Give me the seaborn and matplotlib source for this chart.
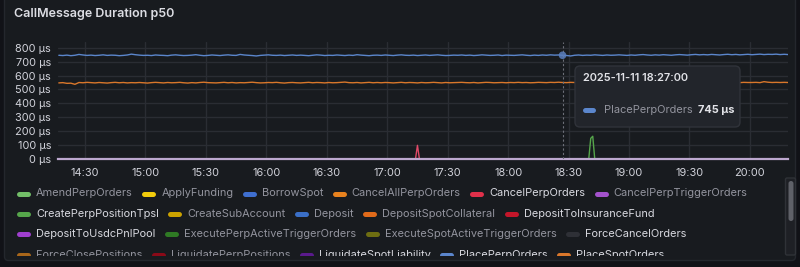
import numpy as np
import pandas as pd
import matplotlib
matplotlib.use("Agg")
import matplotlib.pyplot as plt
import seaborn as sns
from matplotlib.patches import FancyBboxPatch
from matplotlib.transforms import Bbox

# ---------------- data ----------------
DAY = "2025-11-11"
TITLE = "CallMessage Duration p50"

series_start = "14:17"
series_step = "2min"

place_perp_orders = [
    745, 743, 746, 742, 745, 751, 747, 744, 746, 743, 745, 748, 744, 746, 745, 742, 744, 747, 753, 749,
    746, 744, 745, 743, 747, 745, 744, 742, 746, 748, 745, 743, 744, 746, 749, 745, 742, 744, 747, 745,
    743, 746, 748, 745, 744, 751, 747, 745, 743, 740, 744, 746, 748, 745, 744, 746, 743, 745, 747, 744,
    746, 744, 742, 745, 748, 746, 743, 745, 744, 747, 745, 743, 746, 744, 749, 746, 744, 742, 745, 746,
    744, 747, 745, 743, 746, 748, 745, 744, 746, 743, 745, 747, 744, 746, 748, 745, 743, 744, 746, 745,
    747, 744, 746, 743, 745, 748, 746, 744, 745, 747, 743, 746, 745, 744, 746, 748, 745, 743, 746, 744,
    747, 745, 748, 746, 747, 745, 743, 740, 745, 747, 744, 746, 745, 748, 746, 744, 747, 745, 746, 748,
    746, 744, 747, 745, 748, 750, 747, 745, 748, 746, 749, 747, 745, 748, 750, 748, 746, 749, 751, 748,
    750, 748, 751, 749, 747, 750, 752, 749, 751, 748, 750, 752, 749, 751, 753, 750, 752, 751, 753, 750,
    752, 750,
]

place_spot_orders = [
    547, 549, 544, 545, 537, 550, 548, 551, 549, 547, 550, 548, 546, 549, 551, 548, 550, 547, 549, 548,
    550, 548, 546, 549, 551, 549, 547, 550, 548, 549, 551, 548, 546, 549, 547, 550, 552, 549, 548, 547,
    549, 551, 548, 550, 547, 549, 548, 550, 552, 549, 547, 548, 550, 549, 551, 548, 546, 549, 550, 548,
    547, 549, 551, 548, 550, 549, 547, 550, 548, 549, 551, 553, 549, 548, 550, 547, 549, 551, 548, 550,
    548, 550, 549, 547, 549, 551, 548, 550, 549, 547, 550, 548, 549, 551, 549, 547, 550, 548, 549, 550,
    551, 549, 548, 550, 547, 549, 551, 550, 548, 549, 550, 548, 550, 549, 551, 549, 550, 548, 549, 551,
    550, 549, 551, 550, 552, 550, 549, 551, 550, 548, 550, 552, 549, 551, 550, 549, 551, 550, 552, 550,
    551, 549, 550, 552, 550, 551, 549, 550, 552, 551, 549, 550, 551, 549, 550, 552, 550, 551, 549, 550,
    551, 550, 552, 551, 549, 550, 551, 553, 550, 549, 551, 550, 550, 551, 549, 556, 552, 550, 551, 550,
    551, 550,
]

cancel_perp_times = ["14:17", "17:14", "17:15", "17:16", "20:19"]
cancel_perp_values = [0, 0, 100, 0, 0]

create_tpsl_times = ["14:17", "18:40", "18:41", "18:42", "18:43", "20:19"]
create_tpsl_values = [0, 0, 150, 165, 0, 0]

zero_series_times = ["14:17", "20:19"]
zero_series = ["DepositToInsuranceFund", "DepositToUsdcPnlPool", "ForceCancelOrders",
               "LiquidateSpotLiability"]

series_names = [
    "AmendPerpOrders", "ApplyFunding", "BorrowSpot", "CancelAllPerpOrders", "CancelPerpOrders",
    "CancelPerpTriggerOrders", "CreatePerpPositionTpsl", "CreateSubAccount", "Deposit",
    "DepositSpotCollateral", "DepositToInsuranceFund", "DepositToUsdcPnlPool",
    "ExecutePerpActiveTriggerOrders", "ExecuteSpotActiveTriggerOrders", "ForceCancelOrders",
    "ForceClosePositions", "LiquidatePerpPositions", "LiquidateSpotLiability",
    "PlacePerpOrders", "PlaceSpotOrders",
]
series_colors = [
    "#73bf69", "#f2cc0c", "#3f6fd0", "#e8821e", "#e0304a",
    "#a352cc", "#56a64b", "#cca300", "#3a6fc7",
    "#e06a1a", "#c4162a", "#a03fcf",
    "#2f7a24", "#6e6e12", "#2e3036",
    "#a8661a", "#8a0a18", "#5a1a8c",
    "#5b86cc", "#d9772b",
]
dimmed_labels = [
    "AmendPerpOrders", "ApplyFunding", "BorrowSpot", "CancelAllPerpOrders",
    "CancelPerpTriggerOrders", "CreateSubAccount", "Deposit", "DepositSpotCollateral",
    "ExecutePerpActiveTriggerOrders", "ExecuteSpotActiveTriggerOrders",
    "ForceClosePositions", "LiquidatePerpPositions",
]

y_ticks = [0, 100, 200, 300, 400, 500, 600, 700, 800]
y_tick_labels = ["0 µs", "100 µs", "200 µs", "300 µs", "400 µs", "500 µs", "600 µs",
                 "700 µs", "800 µs"]
y_max = 840
x_tick_labels = ["14:30", "15:00", "15:30", "16:00", "16:30", "17:00", "17:30",
                 "18:00", "18:30", "19:00", "19:30", "20:00"]
x_view = ("14:16:36", "20:18:54")
hover_time = "18:27:00"
hover_series = "PlacePerpOrders"

# ---------------- style ----------------
sns.set_theme(style="dark")
plt.rcParams["font.family"] = ["Inter", "DejaVu Sans"]

FIG_BG = "#111217"
PANEL_BG = "#181b1f"
TEXT = "#d8d9e0"
DIM = "#93949e"
GRID = "#2a2d33"
FS = 7.9
color_of = dict(zip(series_names, series_colors))

W, H = 800, 267
fig = plt.figure(figsize=(W / 100, H / 100), dpi=100, facecolor=FIG_BG)

# background overlay (pixel coordinates, origin top-left)
bg = fig.add_axes([0, 0, 1, 1], zorder=0)
bg.set_xlim(0, W)
bg.set_ylim(H, 0)
bg.axis("off")
bg.add_patch(FancyBboxPatch((4.5, -10), 791, 270.5, boxstyle="round,pad=0,rounding_size=4",
                            facecolor=PANEL_BG, edgecolor="#24272d", lw=1))

# main plot axes
ax_l, ax_r, ax_t, ax_b = 58, 788, 42, 159.3
ax = fig.add_axes([ax_l / W, 1 - ax_b / H, (ax_r - ax_l) / W, (ax_b - ax_t) / H], zorder=1)
ax.set_facecolor("none")

def ts(t):
    return pd.Timestamp(f"{DAY} {t}")

main_times = pd.date_range(ts(series_start), periods=len(place_perp_orders), freq=series_step)

for name in zero_series:
    sns.lineplot(x=[ts(t) for t in zero_series_times], y=[0, 0], color=color_of[name],
                 lw=1, ax=ax, legend=False)

sns.lineplot(x=[ts(t) for t in cancel_perp_times], y=cancel_perp_values,
             color="#e04a68", lw=1, ax=ax, legend=False)
sns.lineplot(x=[ts(t) for t in create_tpsl_times], y=create_tpsl_values,
             color="#56a64b", lw=1, ax=ax, legend=False)
sns.lineplot(x=main_times, y=place_spot_orders, color=color_of["PlaceSpotOrders"],
             lw=1, ax=ax, legend=False)
sns.lineplot(x=main_times, y=place_perp_orders, color=color_of["PlacePerpOrders"],
             lw=1, ax=ax, legend=False)

# hover crosshair + dot
hover_idx = list(main_times).index(ts(hover_time))
hover_val = place_perp_orders[hover_idx]
ax.axvline(ts(hover_time), color="#6c6f78", lw=0.8, ls=(0, (2, 2)), zorder=3)
ax.scatter([ts(hover_time)], [hover_val], s=30, color="#5b80c0", alpha=0.85,
           edgecolor="none", zorder=4)

ax.set_xlim(ts(x_view[0]), ts(x_view[1]))
ax.set_ylim(0, y_max)
ax.set_yticks(y_ticks)
ax.set_yticklabels(y_tick_labels)
ax.set_xticks([ts(t) for t in x_tick_labels])
ax.set_xticklabels(x_tick_labels)
ax.tick_params(axis="both", length=0, colors="#d2d3db", labelsize=FS)
ax.tick_params(axis="y", pad=5)
ax.tick_params(axis="x", pad=6)
ax.grid(True, color=GRID, lw=1)
ax.set_xlabel("")
ax.set_ylabel("")
for s in ["top", "right", "left"]:
    ax.spines[s].set_visible(False)
ax.spines["bottom"].set_color("#bda8cf")
ax.spines["bottom"].set_linewidth(1.6)

# foreground overlay
fg = fig.add_axes([0, 0, 1, 1], zorder=5)
fg.set_xlim(0, W)
fg.set_ylim(H, 0)
fg.axis("off")
fg.patch.set_alpha(0)

fg.text(14, 14.5, TITLE, fontsize=9.0, fontweight="semibold", color="#dcdde3",
        va="center", ha="left")

# legend (flow layout, clipped)
renderer = fig.canvas.get_renderer()
clip = Bbox.from_extents(0, H - 256, W, H - 178)
row_y = [193.5, 214, 234.3, 254.6]
x = 17.0
row = 0
for name in series_names:
    t = fg.text(0, 0, name, fontsize=FS, color=DIM if name in dimmed_labels else TEXT,
                va="center", ha="left")
    w = t.get_window_extent(renderer).width
    if x + 19 + w > 778 and x > 17.0:
        row += 1
        x = 17.0
    if row >= len(row_y):
        t.remove()
        continue
    y = row_y[row]
    t.set_position((x + 19, y))
    t.set_clip_box(clip)
    t.set_clip_on(True)
    ln, = fg.plot([x + 2, x + 11], [y, y], color=color_of[name], lw=3.6,
                  solid_capstyle="round")
    ln.set_clip_box(clip)
    ln.set_clip_on(True)
    x += 19 + w + 9.5

# scrollbar
fg.add_patch(FancyBboxPatch((785.5, 178), 10, 77, boxstyle="round,pad=0,rounding_size=1.5",
                            facecolor="#1e2025", edgecolor="#2f3237", lw=1))
fg.add_patch(FancyBboxPatch((788.5, 181), 5, 40, boxstyle="round,pad=0,rounding_size=2.5",
                            facecolor="#5f6168", edgecolor="none"))

# tooltip
fg.add_patch(FancyBboxPatch((575, 66), 165, 61, boxstyle="round,pad=0,rounding_size=5",
                            facecolor="#22252b", edgecolor="#30333a", lw=1))
fg.text(583, 78, f"{DAY} {hover_time}", fontsize=7.9, fontweight="semibold",
        color="#e2e3e8", va="center", ha="left")
fg.plot([585, 593], [110, 110], color=color_of[hover_series], lw=3.6, solid_capstyle="round")
nt = fg.text(604, 110, hover_series, fontsize=FS, color=DIM, va="center", ha="left")
nw = nt.get_window_extent(renderer).width
fg.text(604 + nw + 5, 110, f"{hover_val} µs", fontsize=7.9, fontweight="bold",
        color="#e2e3e8", va="center", ha="left")

fig.savefig("out.png", dpi=100, facecolor=FIG_BG)
